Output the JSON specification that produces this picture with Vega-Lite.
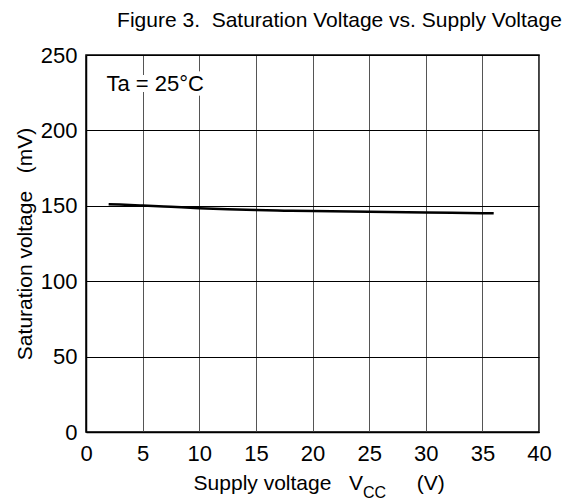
{
  "$schema": "https://vega.github.io/schema/vega-lite/v6.json",
  "autosize": {"type": "none"},
  "width": 453,
  "height": 377,
  "padding": {"left": 86, "top": 55, "right": 29, "bottom": 70},
  "background": "white",
  "title": {"text": "Figure 3.\u00a0 Saturation Voltage vs. Supply Voltage", "anchor": "middle", "dx": 27, "offset": 13, "fontSize": 21, "font": "Liberation Sans", "fontWeight": "normal", "color": "black"},
  "config": {
    "font": "Liberation Sans",
    "view": {"stroke": "black", "strokeWidth": 1.5},
    "axis": {"labelFont": "Liberation Sans", "labelFontSize": 22, "labelColor": "black", "ticks": false, "domainColor": "black", "domainWidth": 1.5, "titleFont": "Liberation Sans", "titleFontSize": 21, "titleFontWeight": "normal", "titleColor": "black"}
  },
  "datasets": {
    "curve": [
      {"vcc": 2, "vsat": 151},
      {"vcc": 3, "vsat": 150.8},
      {"vcc": 5, "vsat": 150.2},
      {"vcc": 7.5, "vsat": 149.3},
      {"vcc": 10, "vsat": 148.4},
      {"vcc": 12.5, "vsat": 147.7},
      {"vcc": 15, "vsat": 147.2},
      {"vcc": 17.5, "vsat": 146.8},
      {"vcc": 20, "vsat": 146.5},
      {"vcc": 25, "vsat": 146},
      {"vcc": 30, "vsat": 145.5},
      {"vcc": 35, "vsat": 145.1},
      {"vcc": 36, "vsat": 145}
    ],
    "note": [{"t": "Ta = 25°C", "x": 1.8, "y": 226}]
  },
  "layer": [
    {
      "data": {"name": "curve"},
      "mark": {"type": "line", "color": "black", "strokeWidth": 2.5, "interpolate": "monotone"},
      "encoding": {
        "x": {"field": "vcc", "type": "quantitative", "scale": {"domain": [0, 40], "nice": false}, "axis": {"values": [0,5,10,15,20,25,30,35,40], "title": null, "grid": true, "gridColor": "#555", "gridWidth": 1, "labelPadding": 11, "labelFlush": false}},
        "y": {"field": "vsat", "type": "quantitative", "scale": {"domain": [0, 250], "nice": false}, "axis": {"values": [0,50,100,150,200,250], "title": "Saturation voltage\u00a0\u00a0\u00a0(mV)", "titlePadding": 5, "grid": true, "gridColor": "black", "gridWidth": 1, "labelPadding": 9, "labelFlush": false}}
      }
    },
    {
      "data": {"name": "note"},
      "mark": {"type": "text", "align": "left", "baseline": "alphabetic", "fontSize": 22, "color": "white", "stroke": "white", "strokeWidth": 10},
      "encoding": {"text": {"field": "t"}, "x": {"field": "x", "type": "quantitative"}, "y": {"field": "y", "type": "quantitative"}}
    },
    {
      "data": {"name": "note"},
      "mark": {"type": "text", "align": "left", "baseline": "alphabetic", "fontSize": 22, "color": "black"},
      "encoding": {"text": {"field": "t"}, "x": {"field": "x", "type": "quantitative"}, "y": {"field": "y", "type": "quantitative"}}
    },
    {
      "data": {"values": [{"t": "Supply voltage\u00a0\u00a0\u00a0V"}]},
      "mark": {"type": "text", "align": "right", "baseline": "alphabetic", "fontSize": 21, "color": "black", "dy": 58},
      "encoding": {"text": {"field": "t"}, "x": {"datum": 24.45, "type": "quantitative"}, "y": {"datum": 0, "type": "quantitative"}}
    },
    {
      "data": {"values": [{"t": "CC"}]},
      "mark": {"type": "text", "align": "left", "baseline": "alphabetic", "fontSize": 16, "color": "black", "dy": 66},
      "encoding": {"text": {"field": "t"}, "x": {"datum": 24.45, "type": "quantitative"}, "y": {"datum": 0, "type": "quantitative"}}
    },
    {
      "data": {"values": [{"t": "(V)"}]},
      "mark": {"type": "text", "align": "left", "baseline": "alphabetic", "fontSize": 21, "color": "black", "dy": 58},
      "encoding": {"text": {"field": "t"}, "x": {"datum": 29.2, "type": "quantitative"}, "y": {"datum": 0, "type": "quantitative"}}
    }
  ]
}
